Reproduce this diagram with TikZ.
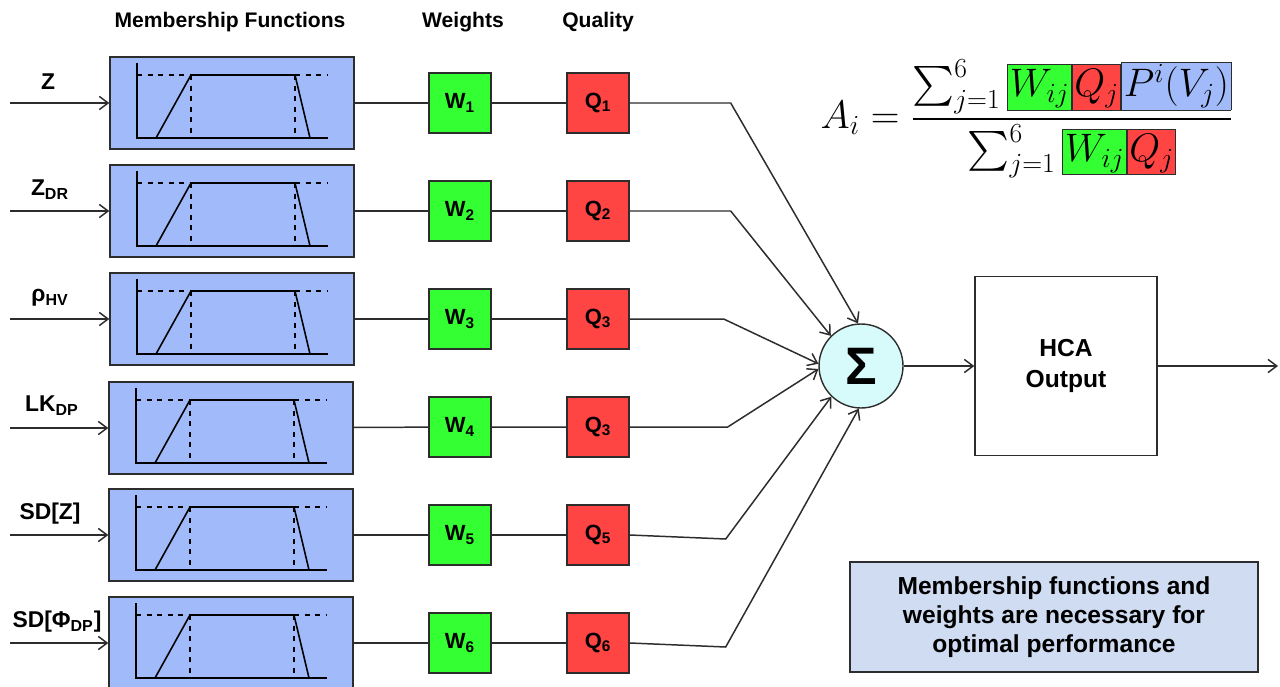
\documentclass[tikz,border=0pt]{standalone}
\usepackage{amsmath}
\usepackage[no-math]{fontspec}
\setmainfont{Liberation Sans}
\usetikzlibrary{arrows.meta}
\definecolor{mfblue}{RGB}{160,186,250}
\definecolor{wgreen}{RGB}{51,255,51}
\definecolor{qred}{RGB}{255,68,68}
\definecolor{sumcyan}{RGB}{215,250,250}
\definecolor{noteblue}{RGB}{208,220,242}
\definecolor{edge}{RGB}{45,45,45}
\tikzset{
	head/.style={font=\fontsize{12}{14}\selectfont\bfseries},
	inlabel/.style={font=\fontsize{13}{15}\selectfont\bfseries},
	mfbox/.style={draw=edge,line width=0.8pt,fill=mfblue,minimum width=4.88cm,minimum height=1.84cm},
	wbox/.style={draw=edge,line width=0.8pt,fill=wgreen,minimum width=1.24cm,minimum height=1.2cm,font=\fontsize{12.5}{14}\selectfont\bfseries},
	qbox/.style={wbox,fill=qred},
	wire/.style={draw=edge,line width=0.85pt},
	arr/.style={wire,-{Straight Barb[length=5pt,width=7.5pt]}}
}
\def\mfplot(#1){\begin{scope}[shift={(#1.center)}]
	\draw[dashed,line width=0.7pt] (-95,-28) -- (96,-28) (-41,-28) -- (-41,35) (63,-28) -- (63,35);
	\draw[line width=1.2pt] (-95,-40) -- (-95,35) -- (96,35);
	\draw[line width=0.9pt] (-76,35) -- (-41,-28) -- (63,-28) -- (78,35);
\end{scope}}

\begin{document}
\begin{tikzpicture}[x=0.02cm,y=-0.02cm]
	\useasboundingbox (0,0) rectangle (1280,686);
	
	\node[head] (hmf) at (230,22) {Membership Functions};
	\node[head] (hw) at (463,22) {Weights};
	\node[head] (hq) at (598,22) {Quality};
	
	\node[mfbox] (mf1) at (232,103) {};
	\node[mfbox] (mf2) at (232,211) {};
	\node[mfbox] (mf3) at (232,319) {};
	\node[mfbox] (mf4) at (231,428) {};
	\node[mfbox] (mf5) at (231,535) {};
	\node[mfbox] (mf6) at (231,643) {};
	\mfplot(mf1) \mfplot(mf2) \mfplot(mf3)
	\mfplot(mf4) \mfplot(mf5) \mfplot(mf6)
	
	\node[inlabel] (l1) at (48,82) {Z};
	\node[inlabel] (l2) at (50,190) {Z\textsubscript{DR}};
	\node[inlabel] (l3) at (50,298) {ρ\textsubscript{HV}};
	\node[inlabel] (l4) at (52,406) {LK\textsubscript{DP}};
	\node[inlabel] (l5) at (50,514) {SD[Z]};
	\node[inlabel] (l6) at (57,622) {SD[Φ\textsubscript{DP}]};
	
	\coordinate (in1) at (10,103);
	\coordinate (in2) at (10,211);
	\coordinate (in3) at (10,319);
	\coordinate (in4) at (10,428);
	\coordinate (in5) at (10,535);
	\coordinate (in6) at (10,643);
	
	\node[wbox] (w1) at (460,103) {W\textsubscript{1}};
	\node[wbox] (w2) at (460,211) {W\textsubscript{2}};
	\node[wbox] (w3) at (460,319) {W\textsubscript{3}};
	\node[wbox] (w4) at (460,427) {W\textsubscript{4}};
	\node[wbox] (w5) at (460,535) {W\textsubscript{5}};
	\node[wbox] (w6) at (460,643) {W\textsubscript{6}};
	
	\node[qbox] (q1) at (598,103) {Q\textsubscript{1}};
	\node[qbox] (q2) at (598,211) {Q\textsubscript{2}};
	\node[qbox] (q3) at (598,319) {Q\textsubscript{3}};
	\node[qbox] (q4) at (598,427) {Q\textsubscript{3}};
	\node[qbox] (q5) at (598,535) {Q\textsubscript{5}};
	\node[qbox] (q6) at (598,643) {Q\textsubscript{6}};
	
	\node[circle,draw=edge,line width=0.8pt,fill=sumcyan,minimum size=1.68cm,font=\fontsize{30}{32}\selectfont\bfseries] (sum) at (861,366) {Σ};
	\node[draw=edge,line width=0.8pt,minimum width=3.64cm,minimum height=3.58cm,align=center,font=\fontsize{14}{17.5}\selectfont\bfseries] (hca) at (1066,366) {HCA\\Output};
	\coordinate (out) at (1278,366);
	
	\node[draw=edge,line width=0.8pt,fill=noteblue,minimum width=8.16cm,minimum height=2.2cm,align=center,font=\fontsize{14}{16.5}\selectfont\bfseries] (note) at (1054,617) {Membership functions and\\weights are necessary for\\optimal performance};
	
	\node (eq) at (1027,119) {\scalebox{0.91}{\fontsize{25}{30}\selectfont\setlength{\fboxsep}{1pt}\setlength{\fboxrule}{0.6pt}$A_i = \dfrac{\sum_{j=1}^{6}\fcolorbox{edge}{wgreen}{$\vphantom{(}W_{ij}$}\fcolorbox{edge}{qred}{$\vphantom{(}Q_j$}\fcolorbox{edge}{mfblue}{$P^i(V_j)$}}{\sum_{j=1}^{6}\fcolorbox{edge}{wgreen}{$\vphantom{(}W_{ij}$}\fcolorbox{edge}{qred}{$\vphantom{(}Q_j$}}$}};
	
	\draw[arr] (in1) -- (mf1);
	\draw[arr] (in2) -- (mf2);
	\draw[arr] (in3) -- (mf3);
	\draw[arr] (in4) -- (mf4);
	\draw[arr] (in5) -- (mf5);
	\draw[arr] (in6) -- (mf6);
	
	\draw[wire] (mf1) -- (w1) -- (q1);
	\draw[wire] (mf2) -- (w2) -- (q2);
	\draw[wire] (mf3) -- (w3) -- (q3);
	\draw[wire] (mf4) -- (w4) -- (q4);
	\draw[wire] (mf5) -- (w5) -- (q5);
	\draw[wire] (mf6) -- (w6) -- (q6);
	
	\draw[arr] (q1.east) -- ++(101,0) -- (sum.94);
	\draw[arr] (q2.east) -- ++(101,0) -- (sum.135);
	\draw[arr] (q3.east) -- ++(94,0) -- (sum.177);
	\draw[arr] (q4.east) -- ++(98,0) -- (sum.184);
	\draw[arr] (q5.east) -- ++(96,4) -- (sum.226);
	\draw[arr] (q6.east) -- ++(96,4) -- (sum.267);
	
	\draw[arr] (sum) -- (hca);
	\draw[arr] (hca) -- (out);
\end{tikzpicture}
\end{document}
